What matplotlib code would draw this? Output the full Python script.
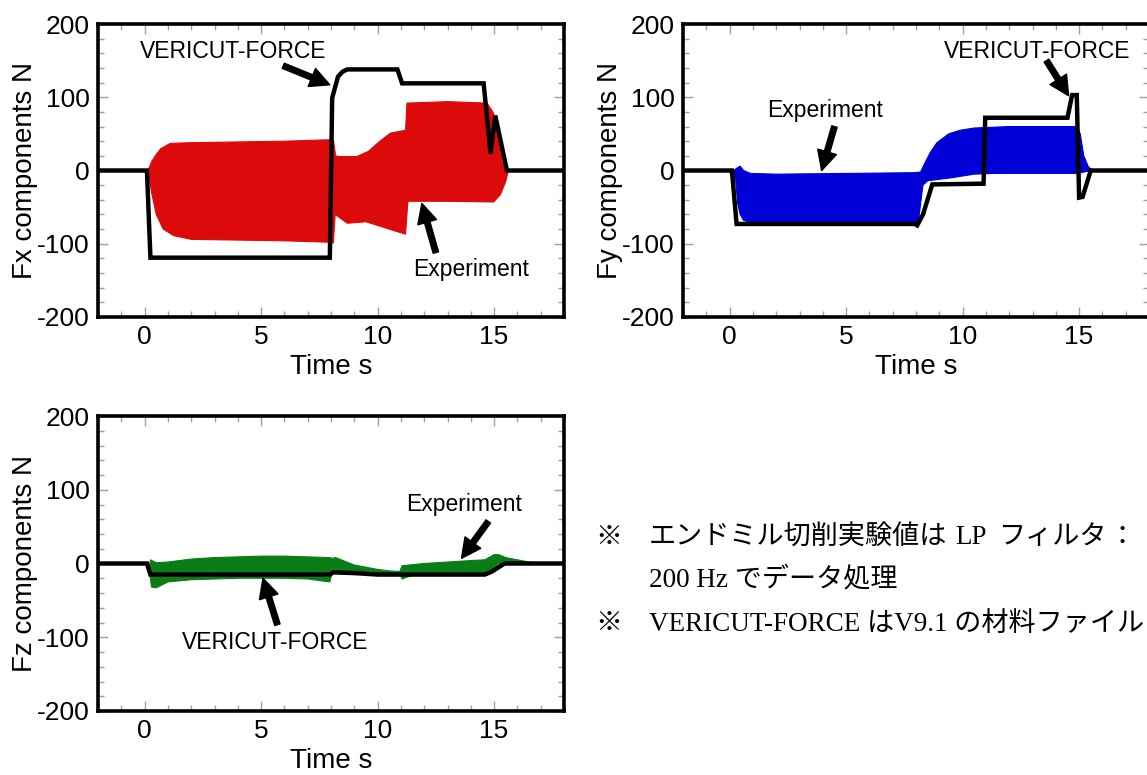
import numpy as np
import matplotlib
matplotlib.use('Agg')
import matplotlib.pyplot as plt
from matplotlib.ticker import MultipleLocator

plt.rcParams['font.family'] = ['Liberation Sans', 'DejaVu Sans']
plt.rcParams['axes.unicode_minus'] = False

# ── data ─────────────────────────────────────────────────────────
# Fx : VERICUT-FORCE line
fx_vc_t = [-2, 0.1, 0.25, 7.95, 8.05, 8.3, 8.5, 8.7, 10.85, 11.05, 14.55, 14.85, 15.05, 15.55, 18]
fx_vc   = [0, 0, -119, -119, 99, 128, 135, 138, 138, 119, 119, 23, 75, 0, 0]
# Fx : experiment envelope
fx_up_t = [0.15, 0.3, 0.5, 0.7, 1.1, 2, 4, 6, 7.95, 8.1, 8.2, 8.35, 9.1, 9.6, 10.1, 10.55, 11.2, 11.26,
           13.0, 14.7, 14.98, 15.2, 15.35, 15.6]
fx_up   = [0, 12, 22, 30, 37, 38, 39, 40, 42, 42, 20, 19, 19, 26, 40, 51, 55, 92,
           94, 92, 78, 40, 12, 0]
fx_lo_t = [0.15, 0.3, 0.5, 0.8, 1.25, 2, 4, 6, 8.0, 8.1, 8.18, 8.7, 9.5, 10.4, 11.2, 11.3,
           13.0, 14.98, 15.27, 15.5, 15.6]
fx_lo   = [0, -30, -60, -80, -89, -94, -95, -96, -98, -99, -60, -72, -70, -79, -87, -42,
           -42, -43, -33, -15, -2]

# Fy : VERICUT-FORCE line
fy_vc_t = [-2, 0.1, 0.3, 7.95, 8.05, 8.3, 8.7, 10.9, 10.97, 14.5, 14.7, 14.9, 15.0, 15.15, 15.5, 18]
fy_vc   = [0, 0, -73, -73, -75, -60, -19, -18, 72, 72, 103, 103, -37, -36, 0, 0]
# Fy : experiment envelope
fy_up_t = [0.0, 0.05, 0.1, 0.3, 0.45, 0.6, 0.9, 2, 5, 7.9, 8.2, 8.3, 8.6, 8.9, 9.4, 9.9, 10.5,
           12, 14, 14.9, 15.05, 15.2, 15.4, 15.6]
fy_up   = [0, -3, -2, 3, 6, 0, -4, -5, -4, -3, -2, 5, 24, 38, 50, 55, 58,
           60, 60, 60, 50, 20, 5, 0]
fy_lo_t = [0.0, 0.05, 0.25, 0.35, 0.45, 0.6, 0.8, 2, 5, 8.1, 8.2, 8.3, 8.5, 9.5, 10.5, 11.3,
           14, 15.0, 15.2, 15.6]
fy_lo   = [0, -6, -10, -45, -60, -68, -70, -71, -71, -71, -45, -20, -14, -10, -5, -4,
           -4, -4, -2, 0]

# Fz : VERICUT-FORCE line
fz_vc_t = [-2, 0.1, 0.25, 7.95, 8.1, 9.0, 10.0, 14.6, 14.9, 15.45, 18]
fz_vc   = [0, 0, -15, -15, -12, -13, -15, -15, -11, 0, 0]
# Fz : experiment envelope
fz_up_t = [0.2, 0.25, 0.5, 1, 2, 3, 4, 5, 6, 7, 7.95, 8.05, 8.2, 9, 10, 10.5, 10.95, 11.05,
           12, 13, 14, 14.6, 15.0, 15.2, 15.5, 16, 16.5, 17]
fz_up   = [-5, 5, 1, 2, 6, 8, 9, 10, 10, 9, 8, 7, 8, -2, -8, -10, -11, -3,
           0, 2, 4, 5, 12, 12, 8, 5, 2, 0]
fz_lo_t = [0.2, 0.3, 0.5, 1, 2, 3, 4, 5, 6, 7, 7.95, 8.05, 8.2, 9, 10, 10.95, 11.05, 11.4,
           12, 13, 14, 14.6, 15.0, 15.2, 15.5, 17]
fz_lo   = [-10, -32, -33, -25, -22, -21, -20, -20, -20, -21, -25, -12, -12, -14, -15, -14, -21, -17,
           -15, -14, -13, -12, -6, 0, 0, 0]

RED, BLUE, GREEN = '#DC0A0A', '#0000D6', '#0A7D16'
TFS, LFS, AFS = 19, 20, 16.5

fig = plt.figure(figsize=(11.47, 7.75), dpi=100, facecolor='white')
W, H = 1147, 775

def add_ax(x0, y0, x1, y1):
    return fig.add_axes([x0 / W, 1 - y1 / H, (x1 - x0) / W, (y1 - y0) / H])

def style(ax, ylabel):
    ax.set_xlim(-2, 18); ax.set_ylim(-200, 200)
    ax.xaxis.set_major_locator(MultipleLocator(5))
    ax.xaxis.set_minor_locator(MultipleLocator(1))
    ax.yaxis.set_major_locator(MultipleLocator(100))
    ax.yaxis.set_minor_locator(MultipleLocator(20))
    ax.tick_params(which='both', direction='in', top=True, right=True,
                   color='#A0A0A0', width=1, labelsize=TFS, pad=6)
    ax.tick_params(which='major', length=7)
    ax.tick_params(which='minor', length=4)
    for s in ax.spines.values():
        s.set_linewidth(2.6); s.set_color('black')
    ax.set_xlabel('Time s', fontsize=LFS, labelpad=3)
    ax.set_ylabel(ylabel, fontsize=LFS, labelpad=-1)

def envelope(ax, tu, u, tl, l, c):
    ax.fill(np.r_[tu, tl[::-1]], np.r_[u, l[::-1]], color=c, lw=0.8, ec=c, zorder=2)

def arrow(ax, tail, tip):
    ax.annotate('', xy=tip, xytext=tail,
                arrowprops=dict(facecolor='black', edgecolor='black', width=4,
                                headwidth=14, headlength=14, shrink=0), zorder=5)

# ── Fx ──
ax1 = add_ax(98, 24, 564, 317)
envelope(ax1, fx_up_t, fx_up, fx_lo_t, fx_lo, RED)
ax1.plot(fx_vc_t, fx_vc, color='black', lw=3.2, zorder=3, solid_joinstyle='miter')
style(ax1, 'Fx components N')
ax1.text(3.8, 163, 'VERICUT-FORCE', fontsize=AFS, ha='center', va='center')
arrow(ax1, (5.95, 143), (7.95, 117))
ax1.text(14.0, -135, 'Experiment', fontsize=AFS, ha='center', va='center')
arrow(ax1, (12.5, -112), (11.9, -45))

# ── Fy ──
ax2 = add_ax(683, 24, 1149, 317)
envelope(ax2, fy_up_t, fy_up, fy_lo_t, fy_lo, BLUE)
ax2.plot(fy_vc_t, fy_vc, color='black', lw=3.2, zorder=3, solid_joinstyle='miter')
style(ax2, 'Fy components N')
ax2.text(4.1, 82, 'Experiment', fontsize=AFS, ha='center', va='center')
arrow(ax2, (4.5, 60), (3.95, 0))
ax2.text(13.2, 162, 'VERICUT-FORCE', fontsize=AFS, ha='center', va='center')
arrow(ax2, (13.6, 150), (14.55, 102))

# ── Fz ──
ax3 = add_ax(98, 416, 564, 711)
envelope(ax3, fz_up_t, fz_up, fz_lo_t, fz_lo, GREEN)
ax3.plot(fz_vc_t, fz_vc, color='black', lw=3.2, zorder=3, solid_joinstyle='miter')
style(ax3, 'Fz components N')
ax3.text(13.7, 80, 'Experiment', fontsize=AFS, ha='center', va='center')
arrow(ax3, (14.75, 57), (13.6, 7))
ax3.text(5.6, -107, 'VERICUT-FORCE', fontsize=AFS, ha='center', va='center')
arrow(ax3, (5.7, -83), (5.08, -20))

# ── notes ──
jp = ['Liberation Serif', 'Noto Sans CJK JP']
JFS = 19.5
def note(x, y, s):
    fig.text(x / W, 1 - y / H, s, fontsize=JFS, family=jp, va='center', ha='left')

note(595, 538, '※')
note(649, 538, 'エンドミル切削実験値は')
note(955, 538, 'LP')
note(998, 538, 'フィルタ')
note(1108, 538, '：')
note(649, 580, '200 Hz でデータ処理')
note(595, 624, '※')
note(649, 624, 'VERICUT-FORCE はV9.1 の材料ファイル')

fig.savefig('out.png', dpi=100, facecolor='white')
